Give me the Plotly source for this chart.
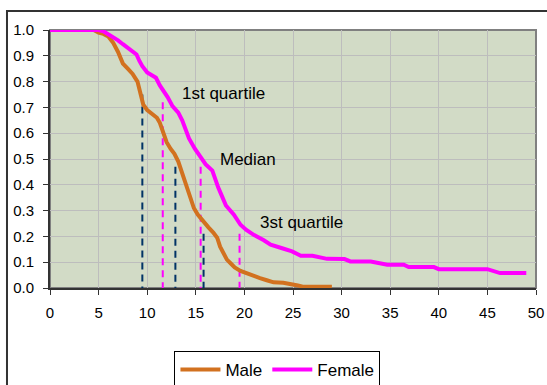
import plotly.graph_objects as go

# Survival curves (time vs proportion)
male_x = [0, 4.5, 5.0, 5.5, 6.0, 6.5, 7.0, 7.5, 8.0, 8.5, 9.0, 9.3, 9.6, 10.0, 10.5, 11.0, 11.3, 11.7,
          12.0, 12.4, 12.8, 13.2, 13.5, 13.8, 14.1, 14.4, 14.8, 15.2, 15.7, 16.3, 16.8, 17.2, 17.5,
          17.8, 18.2, 18.6, 19.0, 19.6, 20.3, 21.0, 21.6, 22.3, 23.0, 24.0, 25.0, 25.5, 26.0, 29.0]
male_y = [1.0, 1.0, 0.99, 0.985, 0.975, 0.95, 0.915, 0.87, 0.85, 0.83, 0.80, 0.75, 0.71, 0.69, 0.675,
          0.66, 0.64, 0.595, 0.565, 0.54, 0.52, 0.49, 0.455, 0.42, 0.385, 0.355, 0.31, 0.285, 0.26,
          0.235, 0.215, 0.195, 0.16, 0.14, 0.11, 0.095, 0.08, 0.066, 0.055, 0.045, 0.038, 0.03,
          0.022, 0.02, 0.015, 0.01, 0.005, 0.005]

female_x = [0, 5.0, 5.5, 6.2, 7.0, 7.5, 8.2, 8.9, 9.2, 9.5, 10.0, 10.5, 10.9, 11.3, 11.7, 12.1, 12.6,
            13.2, 13.6, 14.0, 14.3, 14.9, 15.5, 16.0, 16.7, 17.0, 17.3, 17.7, 18.1, 18.9, 19.3, 19.6,
            20.2, 21.0, 22.0, 22.7, 23.8, 24.9, 25.8, 27.0, 28.5, 30.3, 30.9, 33.0, 34.7, 36.4, 36.9,
            39.5, 40.0, 45.0, 46.3, 49.0]
female_y = [1.0, 1.0, 0.995, 0.98, 0.96, 0.945, 0.925, 0.905, 0.88, 0.86, 0.835, 0.825, 0.815, 0.785,
            0.765, 0.74, 0.705, 0.68, 0.65, 0.615, 0.58, 0.54, 0.505, 0.48, 0.455, 0.42, 0.39, 0.355,
            0.32, 0.285, 0.26, 0.245, 0.225, 0.205, 0.185, 0.168, 0.155, 0.142, 0.125, 0.125, 0.113,
            0.112, 0.103, 0.103, 0.09, 0.09, 0.081, 0.081, 0.073, 0.073, 0.058, 0.058]

# Quartile markers (x position, top of dashed line)
male_q_x = [9.5, 12.9, 15.8]
male_q_top = [0.75, 0.47, 0.21]
female_q_x = [11.6, 15.5, 19.5]
female_q_top = [0.72, 0.47, 0.21]

labels = ["1st quartile", "Median", "3st quartile"]
label_x = [17.9, 20.4, 25.85]
label_y = [0.755, 0.497, 0.252]

x_ticks = list(range(0, 51, 5))
y_ticks = [i / 10 for i in range(11)]

MALE_C = "#D2711F"
FEMALE_C = "#FF00FF"
NAVY = "#003366"

fig = go.Figure()

for qx, qt in zip(male_q_x, male_q_top):
    fig.add_trace(go.Scatter(x=[qx, qx], y=[qt, 0], mode="lines", showlegend=False,
                             line=dict(color=NAVY, width=2, dash="7px,5px"), hoverinfo="skip"))
for qx, qt in zip(female_q_x, female_q_top):
    fig.add_trace(go.Scatter(x=[qx, qx], y=[qt, 0], mode="lines", showlegend=False,
                             line=dict(color=FEMALE_C, width=2, dash="7px,5px"), hoverinfo="skip"))

fig.add_trace(go.Scatter(x=male_x, y=male_y, mode="lines", name="Male",
                         line=dict(color=MALE_C, width=4), cliponaxis=False))
fig.add_trace(go.Scatter(x=female_x, y=female_y, mode="lines", name="Female",
                         line=dict(color=FEMALE_C, width=4), cliponaxis=False))

for t, lx, ly in zip(labels, label_x, label_y):
    fig.add_annotation(x=lx, y=ly, text=t, showarrow=False,
                       font=dict(family="Liberation Sans, Arial", size=17, color="#000000"))

# plot area border (gray) and outer chart frame
fig.add_shape(type="rect", xref="paper", yref="paper", x0=0, y0=0, x1=1, y1=1,
              line=dict(color="#808080", width=2), layer="between")
fig.add_shape(type="rect", xref="paper", yref="paper", x0=-0.0885, y0=-0.6, x1=1.05, y1=1.0736,
              line=dict(color="#333333", width=2), layer="below")

fig.update_layout(
    width=547, height=385,
    margin=dict(l=50, r=11, t=30, b=97, autoexpand=False),
    paper_bgcolor="white",
    plot_bgcolor="#D2DBC6",
    font=dict(family="Liberation Sans, Arial", size=15, color="#000000"),
    showlegend=True,
    legend=dict(orientation="h", x=0.468, xanchor="center", y=-0.244, yanchor="top",
                bordercolor="#000000", borderwidth=1, bgcolor="white",
                font=dict(size=17), itemwidth=40, tracegroupgap=0),
)
fig.update_xaxes(range=[0, 50], tickvals=x_ticks, ticks="outside", ticklen=5, tickcolor="#333333",
                 showline=True, linecolor="#333333", linewidth=2, showgrid=True,
                 gridcolor="#BDBDBD", gridwidth=1, zeroline=False, automargin=False,
                 ticklabelstandoff=5)
fig.update_yaxes(range=[0, 1], tickvals=y_ticks, tickformat=".1f", ticks="outside", ticklen=5,
                 tickcolor="#333333", showline=True, linecolor="#333333", linewidth=2,
                 showgrid=True, gridcolor="#BDBDBD", gridwidth=1, zeroline=False, automargin=False,
                 ticklabelstandoff=6)

fig.write_html("out.html", config={"displayModeBar": False},
               post_script="document.body.style.margin='0';")
